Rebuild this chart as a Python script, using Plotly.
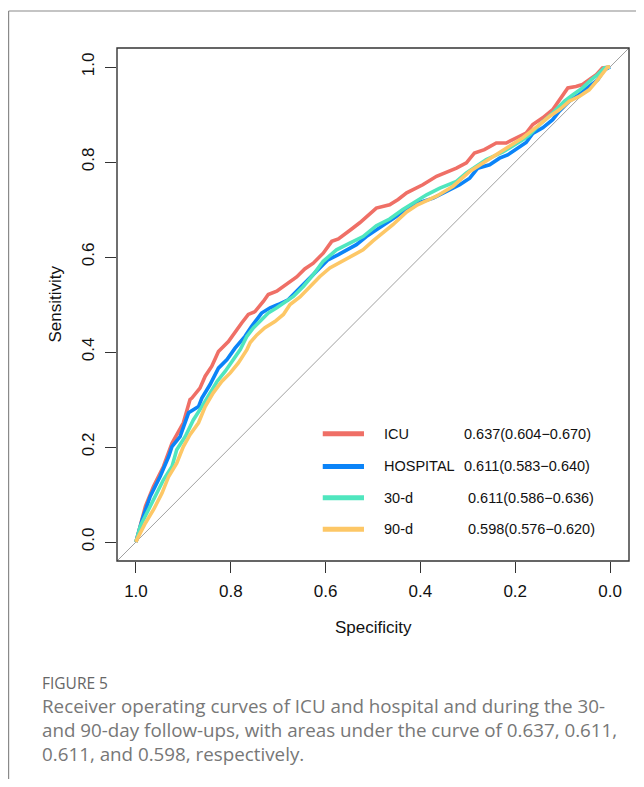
import plotly.graph_objects as go

# ---- data (specificity, sensitivity) ----
icu_spec = [1.000, 0.980, 0.963, 0.942, 0.924, 0.900, 0.886, 0.882, 0.865, 0.854, 0.840, 0.826, 0.805,
            0.791, 0.777, 0.763, 0.749, 0.731, 0.721, 0.703, 0.682, 0.661, 0.644, 0.626, 0.605, 0.587,
            0.573, 0.556, 0.545, 0.528, 0.507, 0.493, 0.465, 0.447, 0.429, 0.416, 0.395, 0.366, 0.342,
            0.324, 0.303, 0.286, 0.265, 0.240, 0.219, 0.198, 0.177, 0.163, 0.142, 0.121, 0.103, 0.089,
            0.072, 0.058, 0.044, 0.029, 0.016, 0.005, 0.000]
icu_sens = [0.000, 0.075, 0.117, 0.159, 0.208, 0.251, 0.300, 0.303, 0.324, 0.349, 0.370, 0.401, 0.422,
            0.443, 0.461, 0.479, 0.485, 0.507, 0.521, 0.528, 0.542, 0.558, 0.575, 0.587, 0.608, 0.633,
            0.638, 0.652, 0.659, 0.672, 0.691, 0.703, 0.710, 0.721, 0.735, 0.742, 0.752, 0.770, 0.780,
            0.787, 0.798, 0.819, 0.826, 0.840, 0.840, 0.851, 0.861, 0.879, 0.893, 0.910, 0.935, 0.956,
            0.959, 0.963, 0.973, 0.984, 0.998, 1.000, 1.000]

hosp_spec = [1.000, 0.987, 0.970, 0.949, 0.931, 0.924, 0.907, 0.889, 0.868, 0.861, 0.844, 0.826, 0.808,
             0.791, 0.770, 0.756, 0.735, 0.717, 0.700, 0.679, 0.654, 0.633, 0.612, 0.595, 0.573, 0.556,
             0.535, 0.514, 0.493, 0.472, 0.451, 0.429, 0.405, 0.373, 0.345, 0.317, 0.296, 0.279, 0.254,
             0.233, 0.216, 0.198, 0.177, 0.163, 0.142, 0.121, 0.107, 0.086, 0.065, 0.044, 0.026, 0.012,
             0.000]
hosp_sens = [0.000, 0.047, 0.096, 0.138, 0.180, 0.201, 0.222, 0.272, 0.285, 0.303, 0.331, 0.366, 0.384,
             0.408, 0.433, 0.454, 0.482, 0.493, 0.500, 0.510, 0.535, 0.556, 0.577, 0.594, 0.605, 0.615,
             0.626, 0.643, 0.657, 0.672, 0.685, 0.702, 0.714, 0.724, 0.738, 0.752, 0.766, 0.787, 0.794,
             0.808, 0.815, 0.828, 0.841, 0.860, 0.872, 0.889, 0.907, 0.928, 0.942, 0.959, 0.973, 0.994,
             1.000]

d30_spec = [1.000, 0.991, 0.977, 0.959, 0.942, 0.924, 0.914, 0.896, 0.879, 0.861, 0.840, 0.829, 0.812,
            0.795, 0.780, 0.766, 0.752, 0.735, 0.721, 0.703, 0.686, 0.668, 0.647, 0.626, 0.605, 0.577,
            0.549, 0.521, 0.493, 0.465, 0.437, 0.408, 0.387, 0.359, 0.324, 0.303, 0.282, 0.261, 0.226,
            0.205, 0.184, 0.170, 0.145, 0.121, 0.096, 0.079, 0.058, 0.040, 0.026, 0.012, 0.000]
d30_sens = [0.000, 0.033, 0.061, 0.096, 0.131, 0.159, 0.194, 0.222, 0.257, 0.285, 0.321, 0.338, 0.359,
            0.384, 0.405, 0.433, 0.451, 0.468, 0.482, 0.493, 0.504, 0.517, 0.538, 0.563, 0.591, 0.615,
            0.629, 0.643, 0.666, 0.680, 0.700, 0.717, 0.731, 0.745, 0.759, 0.777, 0.791, 0.805, 0.821,
            0.833, 0.847, 0.857, 0.882, 0.903, 0.928, 0.941, 0.956, 0.973, 0.984, 0.998, 1.000]

d90_spec = [1.000, 0.998, 0.980, 0.963, 0.945, 0.931, 0.914, 0.900, 0.886, 0.868, 0.854, 0.837, 0.819,
            0.801, 0.784, 0.766, 0.759, 0.745, 0.728, 0.707, 0.689, 0.675, 0.654, 0.633, 0.612, 0.591,
            0.566, 0.542, 0.521, 0.500, 0.479, 0.458, 0.429, 0.406, 0.366, 0.331, 0.296, 0.268, 0.240,
            0.212, 0.184, 0.156, 0.128, 0.107, 0.086, 0.065, 0.044, 0.026, 0.016, 0.005, 0.000]
d90_sens = [0.000, 0.005, 0.040, 0.068, 0.103, 0.138, 0.166, 0.201, 0.226, 0.251, 0.285, 0.314, 0.338,
            0.356, 0.377, 0.405, 0.420, 0.436, 0.451, 0.464, 0.479, 0.500, 0.516, 0.538, 0.559, 0.577,
            0.591, 0.605, 0.615, 0.634, 0.651, 0.668, 0.695, 0.710, 0.728, 0.749, 0.780, 0.798, 0.815,
            0.833, 0.851, 0.873, 0.896, 0.910, 0.928, 0.938, 0.952, 0.973, 0.987, 1.000, 1.000]

series_names = ["ICU", "HOSPITAL", "30-d", "90-d"]
auc_labels = ["0.637(0.604\u22120.670)", "0.611(0.583\u22120.640)",
              "0.611(0.586\u22120.636)", "0.598(0.576\u22120.620)"]
x_tick_vals = [1.0, 0.8, 0.6, 0.4, 0.2, 0.0]
x_tick_text = ["1.0", "0.8", "0.6", "0.4", "0.2", "0.0"]
y_tick_vals = [0.0, 0.2, 0.4, 0.6, 0.8, 1.0]
y_tick_text = ["0.0", "0.2", "0.4", "0.6", "0.8", "1.0"]
caption_head = "FIGURE 5"
caption_lines = ["Receiver operating curves of ICU and hospital and during the 30-",
                 "and 90-day follow-ups, with areas under the curve of 0.637, 0.611,",
                 "0.611, and 0.598, respectively."]

colors = ["#EF6F66", "#0B84F8", "#4FE6BE", "#FDC766"]
FONT = "Liberation Sans, Arial, sans-serif"

fig = go.Figure()

# chance diagonal
fig.add_trace(go.Scatter(x=[1.04, -0.04], y=[-0.04, 1.04], mode="lines",
                         line=dict(color="#A0A0A0", width=1), hoverinfo="skip", showlegend=False))

for sx, sy, c, n in [(icu_spec, icu_sens, colors[0], series_names[0]),
                     (hosp_spec, hosp_sens, colors[1], series_names[1]),
                     (d30_spec, d30_sens, colors[2], series_names[2]),
                     (d90_spec, d90_sens, colors[3], series_names[3])]:
    fig.add_trace(go.Scatter(x=sx, y=sy, mode="lines", name=n,
                             line=dict(color=c, width=3.6), showlegend=False))

shapes = []
annotations = []

# plot box
shapes.append(dict(type="rect", xref="paper", yref="paper", x0=0, x1=1, y0=0, y1=1,
                   line=dict(color="#333333", width=1.4), layer="above"))

# legend inside plot
leg_y = [0.228, 0.159, 0.093, 0.027]
for i in range(4):
    shapes.append(dict(type="line", xref="x", yref="y", x0=0.606, x1=0.519,
                       y0=leg_y[i], y1=leg_y[i], line=dict(color=colors[i], width=5)))
    annotations.append(dict(xref="x", yref="y", x=0.482, y=leg_y[i], text=series_names[i],
                            showarrow=False, xanchor="left", yanchor="middle",
                            font=dict(family=FONT, size=14.5, color="#111")))
    annotations.append(dict(xref="x", yref="y", x=0.312 if i < 2 else 0.303, y=leg_y[i],
                            text=auc_labels[i], showarrow=False, xanchor="left", yanchor="middle",
                            font=dict(family=FONT, size=14.5, color="#111")))

# axis titles
annotations.append(dict(xref="paper", yref="paper", x=0.5, y=(561 - 627) / 513, text="Specificity",
                        showarrow=False, xanchor="center", yanchor="middle",
                        font=dict(family=FONT, size=17, color="#111")))
annotations.append(dict(xref="paper", yref="paper", x=(55 - 117) / 512, y=0.5, text="Sensitivity",
                        showarrow=False, xanchor="center", yanchor="middle", textangle=-90,
                        font=dict(family=FONT, size=17, color="#111")))

# caption
cap_font = "Open Sans, Noto Sans, sans-serif"
annotations.append(dict(xref="paper", yref="paper", x=(40 - 117) / 512, y=(561 - 683) / 513,
                        text=caption_head, showarrow=False, xanchor="left", yanchor="middle",
                        font=dict(family=cap_font, size=15.5, color="#666666")))
for k, line in enumerate(caption_lines):
    annotations.append(dict(xref="paper", yref="paper", x=(40 - 117) / 512,
                            y=(561 - (706 + 24 * k)) / 513, text=line, showarrow=False,
                            xanchor="left", yanchor="middle",
                            font=dict(family=cap_font, size=18.8, color="#777777")))

# outer frame (top and left)
shapes.append(dict(type="line", xref="paper", yref="paper", x0=(8.6 - 117) / 512, x1=(660 - 117) / 512,
                   y0=(561 - 11) / 513, y1=(561 - 11) / 513, line=dict(color="#8A8A8A", width=1.2)))
shapes.append(dict(type="line", xref="paper", yref="paper", x0=(8.6 - 117) / 512, x1=(8.6 - 117) / 512,
                   y0=(561 - 11) / 513, y1=(561 - 800) / 513, line=dict(color="#8A8A8A", width=1.2)))

# page body has an 8px margin: plot area placed so it lands at screen x 117..629, y 48..561
fig.update_layout(
    width=628, height=771,
    margin=dict(l=109, r=7, t=40, b=218),
    paper_bgcolor="white", plot_bgcolor="white",
    showlegend=False,
    shapes=shapes, annotations=annotations,
    font=dict(family=FONT, size=17, color="#111"),
    xaxis=dict(range=[1.04, -0.04], tickvals=x_tick_vals, ticktext=x_tick_text,
               showgrid=False, zeroline=False, showline=False,
               ticks="outside", ticklen=11, tickwidth=1.3, ticklabelstandoff=4,
               tickcolor="#333", tickfont=dict(family=FONT, size=17, color="#111")),
    yaxis=dict(range=[-0.04, 1.04], tickvals=y_tick_vals, ticktext=y_tick_text,
               showgrid=False, zeroline=False, showline=False,
               ticks="outside", ticklen=11, tickwidth=1.3, ticklabelstandoff=4,
               tickcolor="#333", tickangle=-90, tickfont=dict(family=FONT, size=17, color="#111")),
)

fig.write_html("out.html")
